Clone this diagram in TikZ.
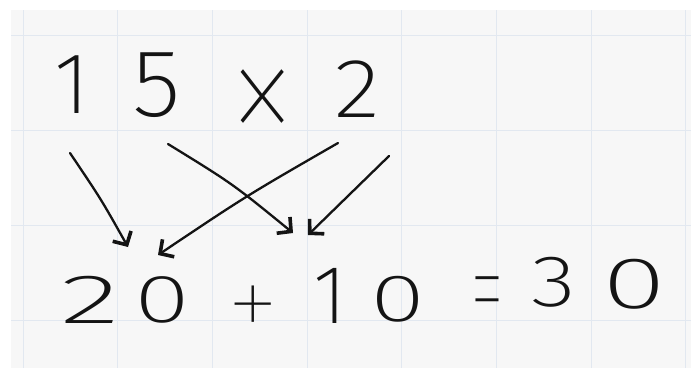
\documentclass[tikz,border=0pt]{standalone}
\usepackage{fontspec}
\IfFontExistsTF{Fira Sans ExtraLight}{\newfontfamily\hw{Fira Sans ExtraLight}}{%
 \IfFontExistsTF{Fira Sans Light}{\newfontfamily\hw{Fira Sans Light}}{%
  \IfFontExistsTF{Lato Light}{\newfontfamily\hw{Lato Light}}{%
   \IfFontExistsTF{Open Sans Light}{\newfontfamily\hw{Open Sans Light}}{%
    \newcommand{\hw}{\sffamily}}}}}
\IfFontExistsTF{Fira Sans Thin}{\newfontfamily\hwop{Fira Sans Thin}}{%
 \IfFontExistsTF{Fira Sans UltraLight}{\newfontfamily\hwop{Fira Sans UltraLight}}{%
  \IfFontExistsTF{Lato Thin}{\newfontfamily\hwop{Lato Thin}}{%
   \IfFontExistsTF{Lato Hairline}{\newfontfamily\hwop{Lato Hairline}}{%
    \newcommand{\hwop}{\hw}}}}}
\usetikzlibrary{arrows.meta}
\definecolor{paper}{HTML}{F7F7F7}
\definecolor{gridc}{HTML}{E2E8F0}
\definecolor{ink}{HTML}{141414}
\newcommand{\hwsize}[1]{\hw\fontsize{#1}{#1}\selectfont}
\newcommand{\opsize}[1]{\hwop\fontsize{#1}{#1}\selectfont}
\begin{document}
\begin{tikzpicture}[x=1pt,y=-1pt,
  glyph/.style={inner sep=0pt, text=ink},
  arr/.style={draw=ink, line width=2.3pt, line cap=round,
    -{Straight Barb[length=10pt,width=21pt,line width=3.6pt]}},
  gridline/.style={draw=gridc, line width=1pt}
]
\useasboundingbox (0,0) rectangle (691,368);
\fill[white] (0,0) rectangle (691,368);
\fill[paper] (11,10) rectangle (691,368);
\foreach \x in {23,117.7,212.4,307.1,401.8,496.5,591.2,685.9}
  \draw[gridline] (\x,10) -- (\x,368);
\foreach \y in {35,130.3,225.6,320.9}
  \draw[gridline] (11,\y) -- (691,\y);

% top row
\node[glyph, font=\hwsize{87}] (t1) at (72,85) {1};
\node[glyph, font=\hwsize{96}] (t5) at (157,85) {\scalebox{1.05}[1]{5}};
\node[glyph, font=\opsize{182}] (tx) at (263,111) {\scalebox{0.82}[1]{×}};
\node[glyph, font=\hwsize{84}] (t2) at (357,89) {\scalebox{1.15}[1]{2}};

% bottom row
\node[glyph, font=\hwsize{70}] (b2) at (90,300) {\scalebox{1.8}[1]{2}};
\node[glyph, font=\hwsize{68}] (b0) at (162,300) {\scalebox{1.5}[1]{0}};
\node[glyph, font=\opsize{110}] (bp) at (253,313) {+};
\node[glyph, font=\hwsize{83}] (b1) at (330,296) {1};
\node[glyph, font=\hwsize{67}] (b0b) at (398,299) {\scalebox{1.5}[1]{0}};
\node[glyph, font=\opsize{140}] (beq) at (487,306) {\scalebox{0.5}[1]{=}};
\node[glyph, font=\hwsize{73}] (b3) at (554,282) {\scalebox{1.27}[1]{3}};
\node[glyph, font=\hwsize{73}] (b0c) at (634,284) {\scalebox{1.6}[1]{0}};

% arrows
\coordinate (a1s) at (70,153);  \coordinate (a1e) at (128,247);
\coordinate (a2s) at (168,144); \coordinate (a2e) at (293,233);
\coordinate (a3s) at (338,143); \coordinate (a3e) at (158,255);
\coordinate (a4s) at (389,156); \coordinate (a4e) at (308,235);
\draw[arr] (a1s) .. controls (101,199) .. (a1e);
\draw[arr] (a2s) .. controls (233,184) .. (a2e);
\draw[arr] (a3s) .. controls (246,196) .. (a3e);
\draw[arr] (a4s) .. controls (349,195) .. (a4e);
\end{tikzpicture}
\end{document}
